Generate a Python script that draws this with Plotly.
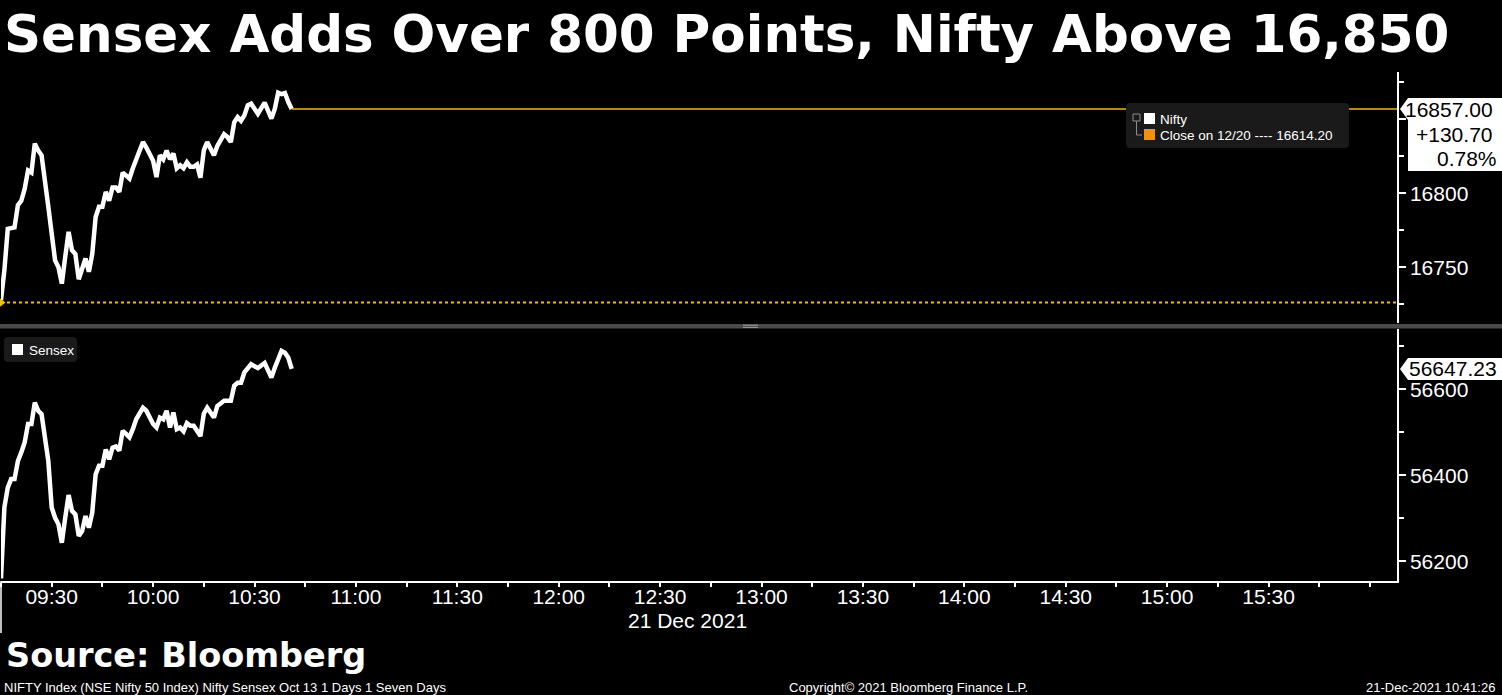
import plotly.graph_objects as go
from plotly.subplots import make_subplots

DAY = '2021-12-21 '

nifty_time = [
    '09:15', '09:16', '09:17', '09:19', '09:20', '09:21', '09:22', '09:23', '09:24', '09:25',
    '09:26', '09:27', '09:29', '09:31', '09:32', '09:33', '09:34', '09:35', '09:36', '09:37',
    '09:38', '09:39', '09:40', '09:41', '09:42', '09:43', '09:44', '09:45', '09:46', '09:47',
    '09:48', '09:49', '09:50', '09:51', '09:52', '09:53', '09:54', '09:55', '09:57', '09:58',
    '10:00', '10:01', '10:02', '10:03', '10:04', '10:05', '10:06', '10:07', '10:08', '10:09',
    '10:10', '10:11', '10:12', '10:13', '10:14', '10:15', '10:16', '10:18', '10:19', '10:21',
    '10:22', '10:23', '10:24', '10:25', '10:26', '10:27', '10:28', '10:29', '10:31', '10:33',
    '10:35', '10:36', '10:37', '10:38', '10:39', '10:40', '10:41',
]
nifty_value = [
    16728, 16748, 16776, 16777, 16792, 16795, 16803, 16815.5, 16814, 16833.6,
    16829, 16825.7, 16791, 16754.7, 16750, 16739, 16757, 16774, 16761.5, 16759,
    16742, 16748, 16756, 16747, 16759, 16784, 16791, 16791, 16801, 16795,
    16804, 16804, 16801, 16814, 16812, 16810, 16817, 16823, 16834.7, 16831,
    16822, 16811, 16825.7, 16823, 16829, 16823, 16827, 16817, 16819, 16817,
    16821, 16818, 16818, 16819.6, 16810.6, 16829, 16834.7, 16825.7, 16832, 16840,
    16838, 16834.7, 16848, 16851.5, 16849, 16852.7, 16859.5, 16860.6, 16853.8, 16861.3,
    16850.5, 16857, 16868, 16867, 16867.8, 16861.7, 16857.00,
]

sensex_time = [
    '09:15', '09:16', '09:17', '09:18', '09:19', '09:20', '09:21', '09:22', '09:23', '09:24',
    '09:25', '09:26', '09:27', '09:29', '09:30', '09:31', '09:32', '09:33', '09:34', '09:35',
    '09:36', '09:37', '09:38', '09:39', '09:40', '09:41', '09:42', '09:43', '09:44', '09:45',
    '09:46', '09:47', '09:48', '09:49', '09:50', '09:51', '09:52', '09:53', '09:54', '09:55',
    '09:57', '09:58', '10:00', '10:01', '10:02', '10:03', '10:04', '10:05', '10:06', '10:07',
    '10:08', '10:09', '10:10', '10:11', '10:12', '10:14', '10:15', '10:16', '10:18', '10:19',
    '10:21', '10:23', '10:24', '10:25', '10:26', '10:27', '10:29', '10:31', '10:33', '10:35',
    '10:36', '10:38', '10:39', '10:40', '10:41',
]
sensex_value = [
    56160, 56325, 56371, 56391, 56391, 56433, 56453, 56476, 56519, 56519,
    56569, 56550, 56542, 56433, 56325, 56301, 56286, 56243, 56301, 56354,
    56317, 56309, 56259, 56270, 56305, 56278, 56313, 56402, 56422, 56422,
    56460, 56437, 56464, 56467, 56457, 56503, 56496, 56488, 56507, 56530,
    56557, 56550, 56519, 56511, 56534, 56530, 56550, 56511, 56546, 56507,
    56511, 56502, 56521, 56515, 56515, 56491, 56543, 56557, 56534, 56561,
    56573, 56573, 56608, 56615, 56615, 56639, 56658, 56649, 56661, 56627,
    56650, 56689, 56685, 56673, 56647.23,
]

time_labels = ['09:30', '10:00', '10:30', '11:00', '11:30', '12:00', '12:30',
               '13:00', '13:30', '14:00', '14:30', '15:00', '15:30']
nifty_ticks = [16750, 16800, 16850]
sensex_ticks = [56200, 56400, 56600]

nifty_last = 16857.00
nifty_change = 130.70
nifty_pct = 0.78
nifty_prev_close = nifty_last - nifty_change
sensex_last = 56647.23
close_label = 'Close on 12/20 ---- 16614.20'

_W, _H = 1502, 695
_L, _R, _T, _B = 1, 105, 72, 114
_PW = _W - _L - _R
_PH = _H - _T - _B
_FONT = 'Liberation Sans'
_GOLD = '#f2c200'
_PANEL = '#1a1a1a'


def _px(x):
    return (x - _L) / _PW


def _py(y):
    return (_H - _B - y) / _PH


def _round_rect(x0, y0, x1, y1, r=4):
    a, b, c, d = _px(x0), _px(x1), _py(y0), _py(y1)
    rx, ry = r / _PW, r / _PH
    return (f'M {a + rx},{c} L {b - rx},{c} Q {b},{c} {b},{c - ry} L {b},{d + ry} '
            f'Q {b},{d} {b - rx},{d} L {a + rx},{d} Q {a},{d} {a},{d + ry} '
            f'L {a},{c - ry} Q {a},{c} {a + rx},{c} Z')


def _rect(x0, y0, x1, y1, color):
    return dict(type='rect', xref='paper', yref='paper', x0=_px(x0), x1=_px(x1),
                y0=_py(y1), y1=_py(y0), fillcolor=color, line_width=0, layer='above')


def _pointer_box(yref, value, below, width=105):
    # white price flag on the right axis, tip pointing at the last value
    return dict(type='path', xref='paper', yref=yref, xsizemode='pixel', ysizemode='pixel',
                xanchor=1, yanchor=value,
                path=f'M 3,0 L 11,11 L {width},11 L {width},{-below} L 11,{-below} L 11,-11 Z',
                fillcolor='white', line_width=0, layer='above')


fig = make_subplots(rows=2, cols=1, shared_xaxes=True)

fig.add_trace(go.Scatter(
    x=[DAY + t for t in nifty_time], y=nifty_value, mode='lines', name='Nifty',
    line=dict(color='white', width=4.5),
), row=1, col=1)
fig.add_trace(go.Scatter(
    x=[DAY + nifty_time[0]], y=[nifty_prev_close], mode='markers',
    marker=dict(symbol='triangle-right', size=9, color=_GOLD), cliponaxis=False,
), row=1, col=1)
fig.add_trace(go.Scatter(
    x=[DAY + t for t in sensex_time], y=sensex_value, mode='lines', name='Sensex',
    line=dict(color='white', width=4.5),
), row=2, col=1)

x_range = [DAY + '09:15', DAY + '16:08']

shapes = [
    dict(type='line', xref='paper', yref='y', x0=0, x1=1, y0=nifty_prev_close, y1=nifty_prev_close,
         line=dict(color=_GOLD, width=2, dash='dot')),
    dict(type='line', xref='x', yref='y', x0=DAY + nifty_time[-1], x1=x_range[1],
         y0=nifty_last, y1=nifty_last, line=dict(color='#f5b800', width=1.5)),
    # panel divider
    dict(type='line', xref='paper', yref='paper', x0=_px(0), x1=_px(_W), y0=_py(326.3), y1=_py(326.3),
         line=dict(color='#4a4a4a', width=4.5), layer='above'),
    dict(type='line', xref='paper', yref='paper', x0=_px(743), x1=_px(758), y0=_py(325.2), y1=_py(325.2),
         line=dict(color='#9a9a9a', width=1), layer='above'),
    dict(type='line', xref='paper', yref='paper', x0=_px(743), x1=_px(758), y0=_py(327.4), y1=_py(327.4),
         line=dict(color='#9a9a9a', width=1), layer='above'),
    # left border of the time axis
    dict(type='line', xref='paper', yref='paper', x0=_px(1), x1=_px(1), y0=_py(581), y1=_py(633),
         line=dict(color='white', width=1.5)),
    # legend panels
    dict(type='path', xref='paper', yref='paper', path=_round_rect(1126, 103, 1349, 148),
         fillcolor=_PANEL, line_width=0, layer='above'),
    dict(type='path', xref='paper', yref='paper', path=_round_rect(4, 337, 77, 362),
         fillcolor=_PANEL, line_width=0, layer='above'),
    _rect(1144, 113, 1155, 124, 'white'),
    _rect(1144, 129, 1155, 140, '#f39200'),
    _rect(12, 344, 23, 355, 'white'),
    dict(type='rect', xref='paper', yref='paper', x0=_px(1133), x1=_px(1140), y0=_py(121), y1=_py(114),
         line=dict(color='#8c8c8c', width=1), layer='above'),
    dict(type='path', xref='paper', yref='paper',
         path=f'M {_px(1136.5)},{_py(121)} L {_px(1136.5)},{_py(135)} L {_px(1142)},{_py(135)}',
         line=dict(color='#8c8c8c', width=1), layer='above'),
    # price flags
    _pointer_box('y', nifty_last, 62),
    _pointer_box('y2', sensex_last, 11),
]

ann_font = dict(family=_FONT, size=21, color='black')
foot_font = dict(family=_FONT, size=13, color='white')
annotations = [
    dict(text=f'{nifty_last:.2f}', xref='paper', yref='y', x=1, y=nifty_last, xshift=98,
         xanchor='right', yanchor='middle', showarrow=False, font=ann_font),
    dict(text=f'+{nifty_change:.2f}', xref='paper', yref='y', x=1, y=nifty_last, xshift=98,
         yshift=-25, xanchor='right', yanchor='middle', showarrow=False, font=ann_font),
    dict(text=f'{nifty_pct:.2f}%', xref='paper', yref='y', x=1, y=nifty_last, xshift=102,
         yshift=-49, xanchor='right', yanchor='middle', showarrow=False, font=ann_font),
    dict(text=f'{sensex_last:.2f}', xref='paper', yref='y2', x=1, y=sensex_last, xshift=102,
         xanchor='right', yanchor='middle', showarrow=False, font=ann_font),
    dict(text='Nifty', xref='paper', yref='paper', x=_px(1158), y=_py(119),
         xanchor='left', yanchor='middle', showarrow=False,
         font=dict(family=_FONT, size=13.5, color='white')),
    dict(text=close_label, xref='paper', yref='paper', x=_px(1158), y=_py(135),
         xanchor='left', yanchor='middle', showarrow=False,
         font=dict(family=_FONT, size=13.5, color='white')),
    dict(text='Sensex', xref='paper', yref='paper', x=_px(27), y=_py(350),
         xanchor='left', yanchor='middle', showarrow=False,
         font=dict(family=_FONT, size=13.5, color='white')),
    dict(text='21 Dec 2021', xref='paper', yref='paper', x=_px(687), y=_py(620),
         xanchor='center', yanchor='middle', showarrow=False,
         font=dict(family=_FONT, size=21, color='white')),
    dict(text='Source: Bloomberg', xref='paper', yref='paper', x=_px(4), y=_py(655),
         xanchor='left', yanchor='middle', showarrow=False,
         font=dict(family='DejaVu Sans', size=33.5, color='white', weight='bold')),
    dict(text='NIFTY Index (NSE Nifty 50 Index) Nifty Sensex Oct 13 1 Days 1 Seven Days',
         xref='paper', yref='paper', x=_px(2), y=_py(687), xanchor='left', yanchor='middle',
         showarrow=False, font=foot_font),
    dict(text='Copyright© 2021 Bloomberg Finance L.P.', xref='paper', yref='paper',
         x=_px(908), y=_py(687), xanchor='center', yanchor='middle',
         showarrow=False, font=foot_font),
    dict(text='21-Dec-2021 10:41:26', xref='paper', yref='paper', x=_px(1497), y=_py(687),
         xanchor='right', yanchor='middle', showarrow=False, font=foot_font),
]

y_common = dict(
    side='right', showgrid=False, zeroline=False, showline=True, linecolor='white', linewidth=1.5,
    ticks='outside', ticklen=7, tickwidth=2, tickcolor='white',
    tickfont=dict(family=_FONT, size=21, color='white'),
)

fig.update_layout(
    width=_W, height=_H,
    paper_bgcolor='black', plot_bgcolor='black',
    margin=dict(l=_L, r=_R, t=_T, b=_B),
    showlegend=False, hovermode=False,
    title=dict(text='Sensex Adds Over 800 Points, Nifty Above 16,850', x=4 / _W, xanchor='left',
               xref='container', yref='container', y=1 - 34 / _H, yanchor='middle',
               font=dict(family='DejaVu Sans', size=51.5, color='white', weight='bold')),
    xaxis=dict(type='date', range=x_range, showticklabels=False, ticks='', showgrid=False,
               zeroline=False, showline=False),
    xaxis2=dict(type='date', range=x_range, tickformat='%H:%M',
                tickvals=[DAY + t for t in time_labels], ticktext=time_labels,
                ticks='outside', ticklen=4, tickwidth=1.5, tickcolor='white',
                ticklabelstandoff=-8,
                showgrid=False, zeroline=False, showline=True, linecolor='white', linewidth=1.5,
                tickfont=dict(family=_FONT, size=21, color='white'),
                minor=dict(dtick=15 * 60 * 1000, tick0=DAY + '09:15', ticks='outside', ticklen=4,
                           tickwidth=1.5, tickcolor='white')),
    yaxis=dict(domain=[_py(323), 1], range=[16712.4, 16882],
               tickvals=nifty_ticks, ticktext=[str(v) for v in nifty_ticks[:-1]] + [''],
               minor=dict(dtick=25, ticks='outside', ticklen=5, tickcolor='white'), **y_common),
    yaxis2=dict(domain=[0, _py(329)], range=[56154, 56740],
                tickvals=sensex_ticks, ticktext=[str(v) for v in sensex_ticks],
                minor=dict(dtick=100, ticks='outside', ticklen=5, tickcolor='white'), **y_common),
    shapes=shapes,
    annotations=annotations,
)

fig.write_html('out.html', config={'displayModeBar': False},
               post_script="document.body.style.margin='0';")
